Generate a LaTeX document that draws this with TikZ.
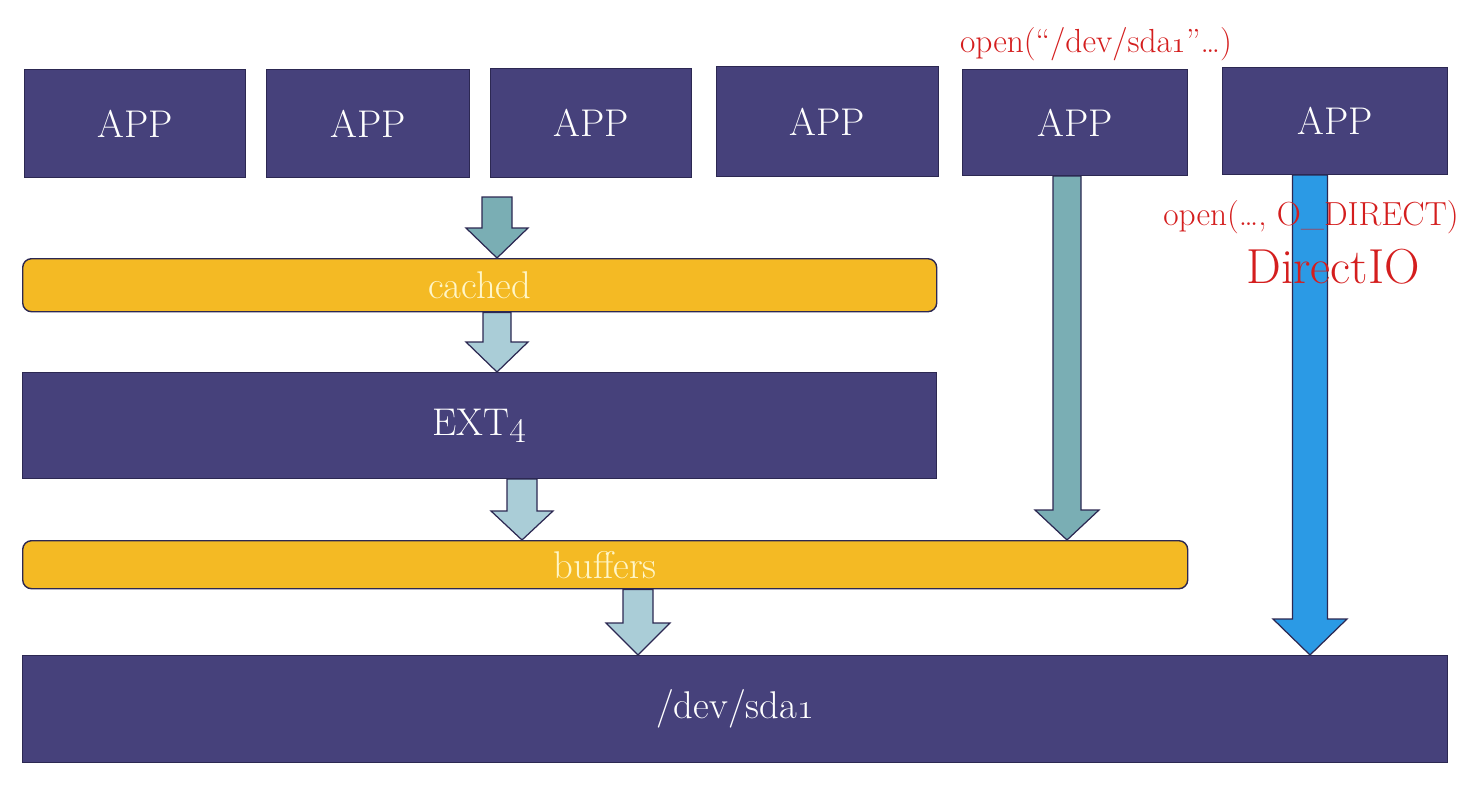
\documentclass[tikz,border=0pt]{standalone}
\usetikzlibrary{calc}

\definecolor{appblue}{RGB}{70,65,123}
\definecolor{edgeblue}{RGB}{44,40,82}
\definecolor{cacheyellow}{RGB}{244,186,36}
\definecolor{creamtext}{RGB}{255,246,200}
\definecolor{tealdark}{RGB}{122,174,180}
\definecolor{teallight}{RGB}{170,205,215}
\definecolor{directblue}{RGB}{43,154,229}
\definecolor{callred}{RGB}{212,30,30}

\newcommand{\px}{0.02cm}
% block arrow: style, top, tip, shaft half width, head half width, head length
\newcommand{\blockarrow}[6]{%
  \draw[#1] ($(#2)+(-#4,0)$) -- ($(#3)+(-#4,-#6)$) -- ($(#3)+(-#5,-#6)$) -- (#3)
    -- ($(#3)+(#5,-#6)$) -- ($(#3)+(#4,-#6)$) -- ($(#2)+(#4,0)$) -- cycle;}

\begin{document}
\begin{tikzpicture}[x=0.02cm, y=-0.02cm,
    box/.style={fill=appblue, draw=edgeblue, line width=0.6pt, text=white,
      font=\fontsize{22}{26}\selectfont, inner sep=0pt, anchor=north west},
    bar/.style={fill=cacheyellow, draw=edgeblue, line width=0.8pt, rounded corners=5pt,
      text=creamtext, font=\fontsize{22}{26}\selectfont, inner sep=0pt, anchor=north west},
    flow/.style={draw=edgeblue, line width=0.7pt, line join=miter},
    call/.style={text=callred, font=\fontsize{19}{21}\selectfont, inner sep=0pt}]
    \useasboundingbox (0,0) rectangle (1478,794);

    % the applications
    \foreach \l/\r/\t/\b [count=\i] in {24/245/69/177, 266/469/69/177, 490/691/68/177,
        716/938/66/176, 962/1187/69/175, 1222/1447/67/174}{
      \node[box, minimum width={(\r-\l)*\px}, minimum height={(\b-\t)*\px}] (app\i) at (\l,\t) {APP};
    }

    % the layers
    \node[bar, minimum width=914*\px, minimum height=53*\px] (cached) at (22,258) {cached};
    \node[box, minimum width=914*\px, minimum height=106*\px] (ext4) at (22,372) {EXT\oldstylenums{4}};
    \node[bar, minimum width=1165*\px, minimum height=48*\px] (buffers) at (22,540) {buffers};
    \node[box, minimum width=1425*\px, minimum height=107*\px] (sda) at (22,655) {/dev/sda\oldstylenums{1}};

    % arrows through the cache
    \coordinate (c1) at (497,197);
    \blockarrow{flow, fill=tealdark}{c1}{c1 |- cached.north}{15}{31}{30}
    \blockarrow{flow, fill=teallight}{c1 |- cached.south}{c1 |- ext4.north}{14}{31}{30}
    \coordinate (c3) at (522,0);
    \blockarrow{flow, fill=teallight}{c3 |- ext4.south}{c3 |- buffers.north}{15}{31}{29}
    \coordinate (c4) at (638,0);
    \blockarrow{flow, fill=teallight}{c4 |- buffers.south}{c4 |- sda.north}{15}{32}{32}

    % raw device and direct io
    \coordinate (c5) at (1067,0);
    \blockarrow{flow, fill=tealdark}{c5 |- app5.south}{c5 |- buffers.north}{14}{32}{30}
    \coordinate (c6) at (1310,0);
    \blockarrow{flow, fill=directblue}{c6 |- app6.south}{c6 |- sda.north}{17.5}{37}{36}

    \node[call] (openraw) at (1096,44) {open(“/dev/sda\oldstylenums{1}”\ldots)};
    \node[call] (opendirect) at (1311,217) {open(\ldots, O\_DIRECT)};
    \node[call, font=\fontsize{28}{30}\selectfont] (directio) at (1333,267) {DirectIO};
  \end{tikzpicture}
\end{document}
